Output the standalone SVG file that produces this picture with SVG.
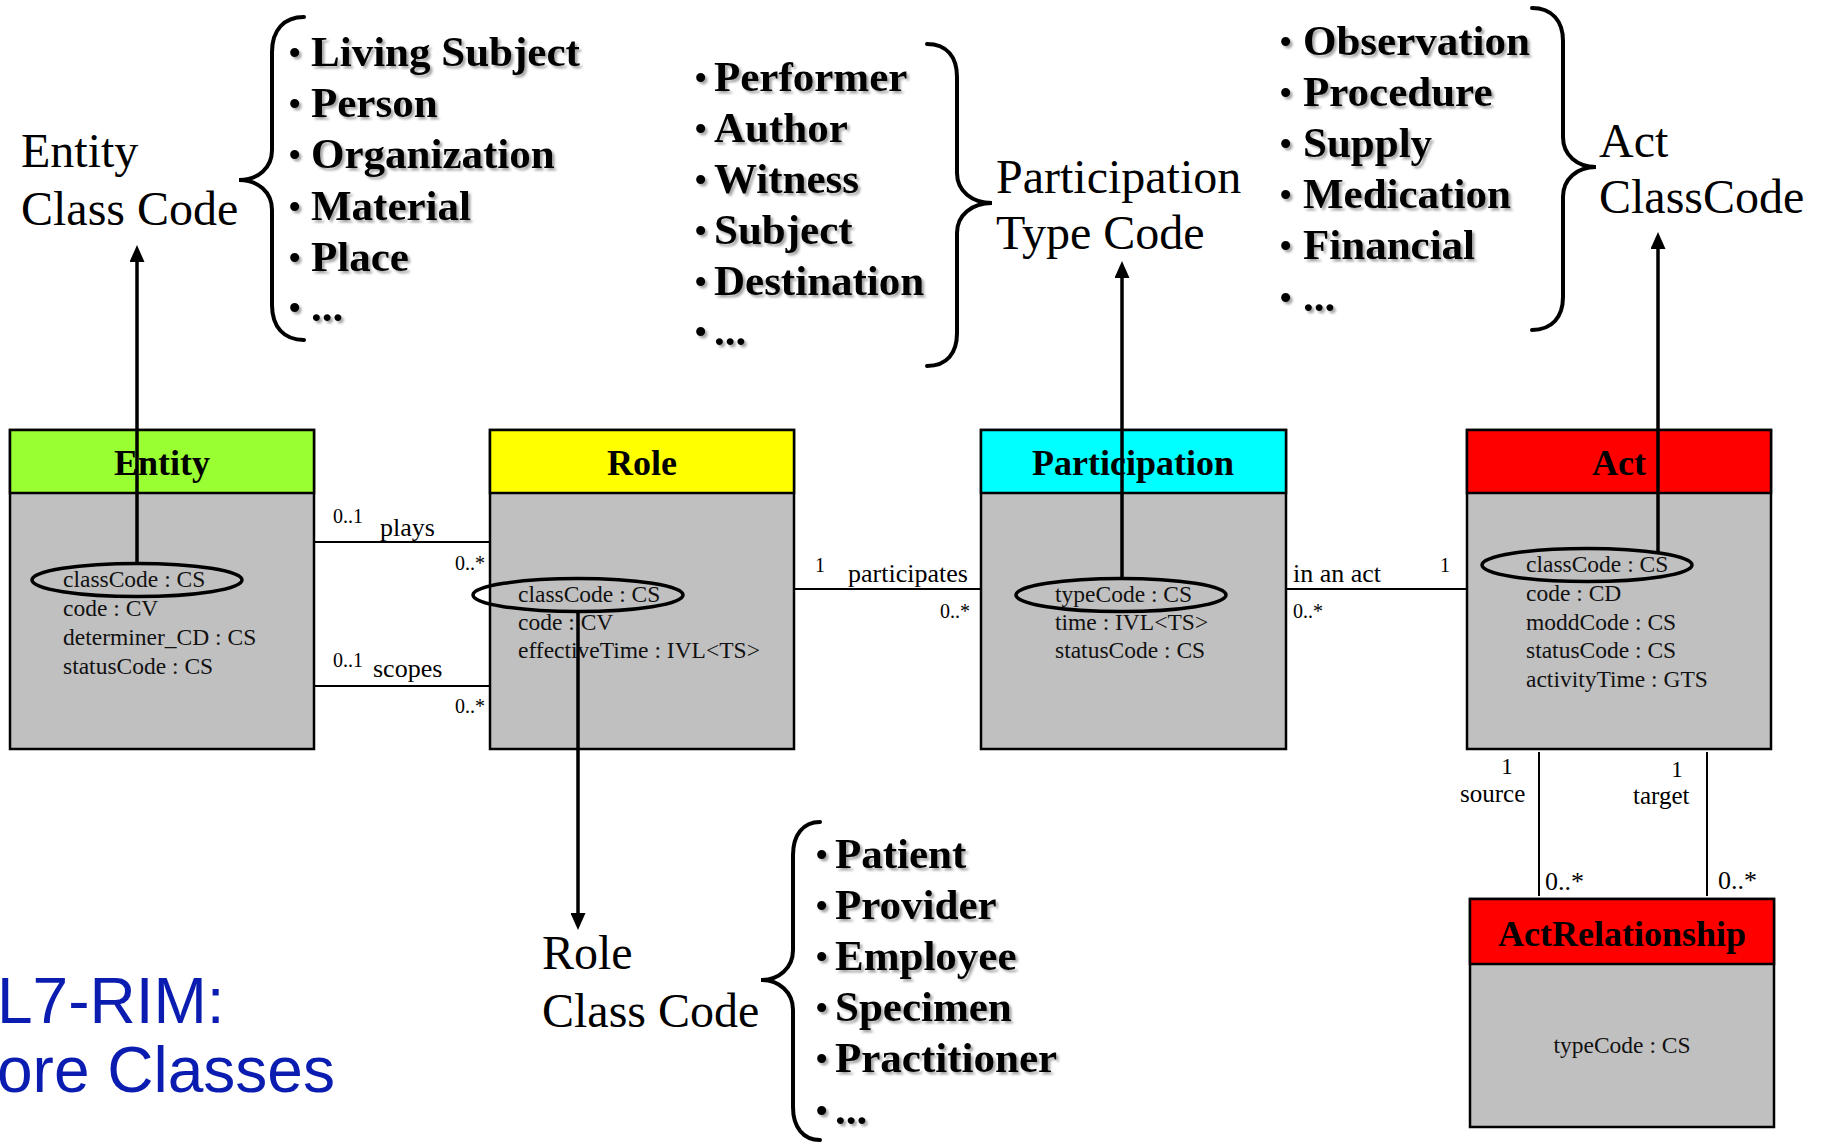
<svg xmlns="http://www.w3.org/2000/svg" width="1821" height="1143" viewBox="0 0 1821 1143">
  <defs>
    <style>
      .hdr { stroke: #000; stroke-width: 2.5; }
      .body { fill: #c0c0c0; stroke: #000; stroke-width: 2.5; }
      .title { font-family: "Liberation Serif", serif; font-weight: bold; font-size: 36px; text-anchor: middle; fill: #000; }
      .attr { font-family: "Liberation Serif", serif; font-size: 23.5px; fill: #111; }
      .oval { fill: none; stroke: #000; stroke-width: 3.5; }
      .mult { font-family: "Liberation Serif", serif; font-size: 20px; fill: #000; }
      .assoc { font-family: "Liberation Serif", serif; font-size: 26px; fill: #000; }
      .role-end { font-family: "Liberation Serif", serif; font-size: 25px; fill: #000; }
      .one { font-family: "Liberation Serif", serif; font-size: 23px; fill: #000; text-anchor: middle; }
      .link { stroke: #000; stroke-width: 2; fill: none; }
      .ptr { stroke: #000; stroke-width: 3.5; fill: none; marker-end: url(#head); }
      .brace { fill: none; stroke: #000; stroke-width: 4; stroke-linecap: round; }
      .code { font-family: "Liberation Serif", serif; font-size: 48px; fill: #000; }
      .item { font-family: "Liberation Serif", serif; font-weight: bold; font-size: 43px; fill: #000; filter: url(#shade); }
      .dot { font-weight: normal; font-size: 38px; }
      .caption { font-family: "Liberation Sans", Arial, sans-serif; font-size: 64px; fill: #0a1db0; }
    </style>
    <marker id="head" viewBox="0 0 17 15" refX="2" refY="7.5" markerWidth="17" markerHeight="15" markerUnits="userSpaceOnUse" orient="auto">
      <path d="M0,0 L17,7.5 L0,15 Z" fill="#000"/>
    </marker>
    <filter id="shade" x="-5%" y="-20%" width="115%" height="150%">
      <feDropShadow dx="2.5" dy="2.5" stdDeviation="0.8" flood-color="#000" flood-opacity="0.35"/>
    </filter>
  </defs>

  <rect width="1821" height="1143" fill="#fff"/>

  <!-- class boxes -->
  <g id="entity">
    <rect class="body" x="10" y="430" width="304" height="319"/>
    <rect class="hdr" x="10" y="430" width="304" height="63" fill="#99ff33"/>
    <text class="title" x="162" y="475">Entity</text>
    <text class="attr" x="63" y="587">classCode : CS</text>
    <text class="attr" x="63" y="616">code : CV</text>
    <text class="attr" x="63" y="645">determiner_CD : CS</text>
    <text class="attr" x="63" y="674">statusCode : CS</text>
    <ellipse class="oval" cx="137" cy="580" rx="105" ry="16.5"/>
  </g>

  <g id="role">
    <rect class="body" x="490" y="430" width="304" height="319"/>
    <rect class="hdr" x="490" y="430" width="304" height="63" fill="#ffff00"/>
    <text class="title" x="642" y="475">Role</text>
    <text class="attr" x="518" y="602">classCode : CS</text>
    <text class="attr" x="518" y="630">code : CV</text>
    <text class="attr" x="518" y="658">effectiveTime : IVL&lt;TS&gt;</text>
    <ellipse class="oval" cx="578" cy="595" rx="105" ry="16.5"/>
  </g>

  <g id="participation">
    <rect class="body" x="981" y="430" width="305" height="319"/>
    <rect class="hdr" x="981" y="430" width="305" height="63" fill="#00ffff"/>
    <text class="title" x="1133" y="475">Participation</text>
    <text class="attr" x="1055" y="602">typeCode : CS</text>
    <text class="attr" x="1055" y="630">time : IVL&lt;TS&gt;</text>
    <text class="attr" x="1055" y="658">statusCode : CS</text>
    <ellipse class="oval" cx="1121" cy="595" rx="105" ry="16.5"/>
  </g>

  <g id="act">
    <rect class="body" x="1467" y="430" width="304" height="319"/>
    <rect class="hdr" x="1467" y="430" width="304" height="63" fill="#ff0000"/>
    <text class="title" x="1619" y="475">Act</text>
    <text class="attr" x="1526" y="572">classCode : CS</text>
    <text class="attr" x="1526" y="601">code : CD</text>
    <text class="attr" x="1526" y="630">moddCode : CS</text>
    <text class="attr" x="1526" y="658">statusCode : CS</text>
    <text class="attr" x="1526" y="687">activityTime : GTS</text>
    <ellipse class="oval" cx="1587" cy="565" rx="105" ry="16.5"/>
  </g>

  <g id="actrelationship">
    <rect class="body" x="1470" y="899" width="304" height="228"/>
    <rect class="hdr" x="1470" y="899" width="304" height="65" fill="#ff0000"/>
    <text class="title" x="1622" y="946">ActRelationship</text>
    <text class="attr" x="1622" y="1053" text-anchor="middle">typeCode : CS</text>
  </g>

  <!-- code value lists -->
  <g id="entity-class-code">
    <text class="code" x="21" y="167">Entity</text>
    <text class="code" x="21" y="225">Class Code</text>
    <path class="brace" d="M304,17 C284,17 272,30 272,52 L272,150 C272,168 258,180 239,180 C258,180 272,192 272,210 L272,305 C272,327 284,340 304,340"/>
    <text class="item" x="288" y="66"><tspan class="dot">•</tspan><tspan x="311">Living Subject</tspan></text>
    <text class="item" x="288" y="117"><tspan class="dot">•</tspan><tspan x="311">Person</tspan></text>
    <text class="item" x="288" y="168"><tspan class="dot">•</tspan><tspan x="311">Organization</tspan></text>
    <text class="item" x="288" y="220"><tspan class="dot">•</tspan><tspan x="311">Material</tspan></text>
    <text class="item" x="288" y="271"><tspan class="dot">•</tspan><tspan x="311">Place</tspan></text>
    <text class="item" x="288" y="321"><tspan class="dot">•</tspan><tspan x="311">...</tspan></text>
  </g>

  <g id="participation-type-code">
    <text class="item" x="694" y="91"><tspan class="dot">•</tspan><tspan x="714">Performer</tspan></text>
    <text class="item" x="694" y="142"><tspan class="dot">•</tspan><tspan x="714">Author</tspan></text>
    <text class="item" x="694" y="193"><tspan class="dot">•</tspan><tspan x="714">Witness</tspan></text>
    <text class="item" x="694" y="244"><tspan class="dot">•</tspan><tspan x="714">Subject</tspan></text>
    <text class="item" x="694" y="295"><tspan class="dot">•</tspan><tspan x="714">Destination</tspan></text>
    <text class="item" x="694" y="345"><tspan class="dot">•</tspan><tspan x="714">...</tspan></text>
    <path class="brace" d="M927,44 C947,44 957,57 957,77 L957,173 C957,191 972,203 992,203 C972,203 957,215 957,233 L957,333 C957,353 947,366 927,366"/>
    <text class="code" x="996" y="193">Participation</text>
    <text class="code" x="996" y="249">Type Code</text>
  </g>

  <g id="act-class-code">
    <text class="item" x="1279" y="55"><tspan class="dot">•</tspan><tspan x="1303">Observation</tspan></text>
    <text class="item" x="1279" y="106"><tspan class="dot">•</tspan><tspan x="1303">Procedure</tspan></text>
    <text class="item" x="1279" y="157"><tspan class="dot">•</tspan><tspan x="1303">Supply</tspan></text>
    <text class="item" x="1279" y="208"><tspan class="dot">•</tspan><tspan x="1303">Medication</tspan></text>
    <text class="item" x="1279" y="259"><tspan class="dot">•</tspan><tspan x="1303">Financial</tspan></text>
    <text class="item" x="1279" y="311"><tspan class="dot">•</tspan><tspan x="1303">...</tspan></text>
    <path class="brace" d="M1532,8 C1552,8 1563,21 1563,41 L1563,137 C1563,155 1577,167 1596,167 C1577,167 1563,179 1563,197 L1563,297 C1563,317 1552,330 1532,330"/>
    <text class="code" x="1599" y="157">Act</text>
    <text class="code" x="1599" y="213">ClassCode</text>
  </g>

  <g id="role-class-code">
    <text class="code" x="542" y="969">Role</text>
    <text class="code" x="542" y="1027">Class Code</text>
    <path class="brace" d="M820,822 C803,822 793,835 793,855 L793,950 C793,968 779,980 761,980 C779,980 793,992 793,1010 L793,1107 C793,1127 803,1140 820,1140"/>
    <text class="item" x="815" y="868"><tspan class="dot">•</tspan><tspan x="835">Patient</tspan></text>
    <text class="item" x="815" y="919"><tspan class="dot">•</tspan><tspan x="835">Provider</tspan></text>
    <text class="item" x="815" y="970"><tspan class="dot">•</tspan><tspan x="835">Employee</tspan></text>
    <text class="item" x="815" y="1021"><tspan class="dot">•</tspan><tspan x="835">Specimen</tspan></text>
    <text class="item" x="815" y="1072"><tspan class="dot">•</tspan><tspan x="835">Practitioner</tspan></text>
    <text class="item" x="815" y="1124"><tspan class="dot">•</tspan><tspan x="835">...</tspan></text>
  </g>

  <g id="caption">
    <text class="caption" x="-3" y="1023">L7-RIM:</text>
    <text class="caption" x="-3" y="1092">ore Classes</text>
  </g>

  <!-- associations and code pointers -->
  <g id="connectors">
    <line class="link" x1="314" y1="542" x2="490" y2="542"/>
    <text class="mult" x="333" y="523">0..1</text>
    <text class="assoc" x="380" y="536">plays</text>
    <text class="mult" x="485" y="570" text-anchor="end">0..*</text>

    <line class="link" x1="314" y1="686" x2="490" y2="686"/>
    <text class="mult" x="333" y="667">0..1</text>
    <text class="assoc" x="373" y="677">scopes</text>
    <text class="mult" x="485" y="713" text-anchor="end">0..*</text>

    <line class="link" x1="794" y1="589" x2="981" y2="589"/>
    <text class="mult" x="815" y="572">1</text>
    <text class="assoc" x="848" y="582">participates</text>
    <text class="mult" x="970" y="618" text-anchor="end">0..*</text>

    <line class="link" x1="1286" y1="589" x2="1467" y2="589"/>
    <text class="assoc" x="1293" y="582">in an act</text>
    <text class="mult" x="1440" y="572">1</text>
    <text class="mult" x="1293" y="618">0..*</text>

    <line class="link" x1="1539" y1="752" x2="1539" y2="896"/>
    <text class="one" x="1507" y="774">1</text>
    <text class="role-end" x="1460" y="802">source</text>
    <text class="assoc" x="1545" y="890">0..*</text>

    <line class="link" x1="1707" y1="752" x2="1707" y2="896"/>
    <text class="one" x="1677" y="777">1</text>
    <text class="role-end" x="1633" y="804">target</text>
    <text class="assoc" x="1718" y="889">0..*</text>

    <line class="ptr" x1="137" y1="563" x2="137" y2="260"/>
    <line class="ptr" x1="578" y1="611" x2="578" y2="915"/>
    <line class="ptr" x1="1122" y1="579" x2="1122" y2="276"/>
    <line class="ptr" x1="1658" y1="552" x2="1658" y2="247"/>
  </g>
</svg>
